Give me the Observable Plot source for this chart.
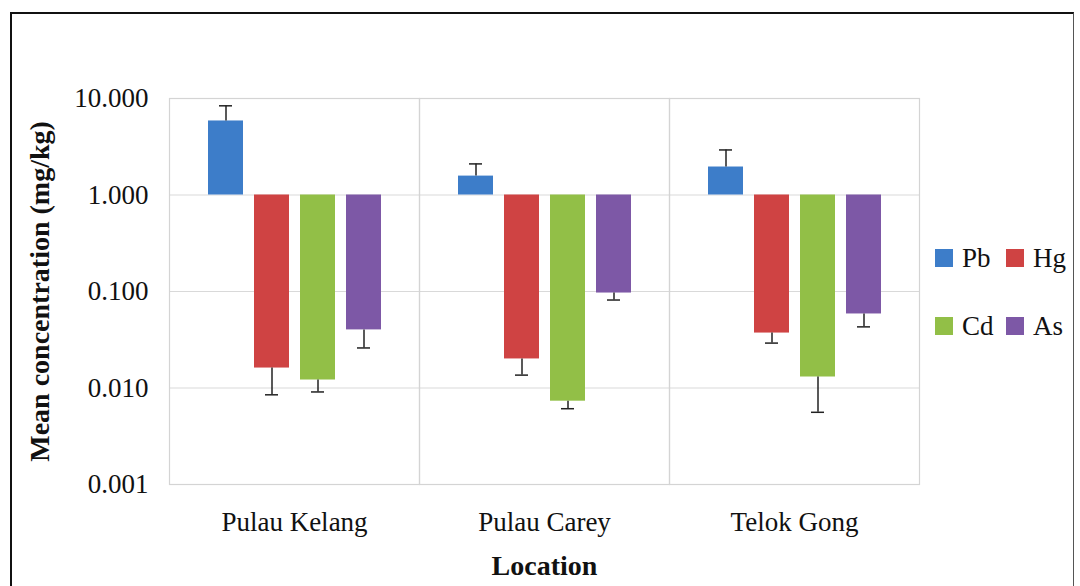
<!DOCTYPE html>
<html>
<head>
<meta charset="utf-8">
<script src="https://cdn.jsdelivr.net/npm/d3@7"></script>
<script src="https://cdn.jsdelivr.net/npm/@observablehq/plot@0.6"></script>
<style>
  html, body { margin: 0; padding: 0; background: #fff; }
  #wrap { position: relative; width: 1080px; height: 586px; overflow: hidden; background: #fff; }
  #border { position: absolute; left: 10px; top: 12px; width: 1064px; height: 600px;
            border-left: 2px solid #111; border-top: 2px solid #111; border-right: 1px solid #555; box-sizing: border-box; }
  #chart { position: absolute; left: 0; top: 0; }
  [aria-label="y-axis label"], [aria-label="fx-axis label"] { font-weight: bold; font-size: 28px; }
  .leg { position: absolute; font-family: "Liberation Serif", serif; font-size: 27px; color: #111; display: flex; align-items: center; }
  .sw { width: 18px; height: 18px; display: inline-block; margin-right: 9px; }
</style>
</head>
<body>
<div id="wrap">
  <div id="border"></div>
  <div id="chart"></div>
  <div id="legend"></div>
</div>
<script>
// Categories and series
const locations = ["Pulau Kelang", "Pulau Carey", "Telok Gong"];
const metals = ["Pb", "Hg", "Cd", "As"];
const colors = ["#3d7dc9", "#cf4343", "#92bf47", "#7d58a6"];

// Mean concentration (mg/kg) per location
const pbMean = [5.85, 1.57, 1.95];
const hgMean = [0.0161, 0.0200, 0.0371];
const cdMean = [0.0121, 0.0073, 0.0130];
const asMean = [0.0400, 0.0964, 0.0585];

// Error-bar end values (mg/kg)
const pbErr = [8.4, 2.10, 2.93];
const hgErr = [0.0085, 0.0136, 0.0292];
const cdErr = [0.0091, 0.0061, 0.0056];
const asErr = [0.0260, 0.0816, 0.0430];

const yTicks = [0.001, 0.01, 0.1, 1, 10];

const means = { Pb: pbMean, Hg: hgMean, Cd: cdMean, As: asMean };
const errs = { Pb: pbErr, Hg: hgErr, Cd: cdErr, As: asErr };
const data = [];
locations.forEach((loc, i) => {
  metals.forEach(m => {
    data.push({ location: loc, metal: m, value: means[m][i], err: errs[m][i] });
  });
});

const chart = Plot.plot({
  width: 1080,
  height: 586,
  marginLeft: 168,
  marginRight: 160,
  marginTop: 98,
  marginBottom: 102,
  style: { fontFamily: "'Liberation Serif', serif", background: "transparent", color: "#111" },
  fx: { domain: locations, padding: 0 },
  x: { domain: metals, paddingInner: 0.25, paddingOuter: 0.8, axis: null },
  y: { type: "log", domain: [0.001, 10] },
  color: { domain: metals, range: colors },
  marks: [
    Plot.ruleY(yTicks, { stroke: "#d9d9d9", strokeWidth: 1.2 }),
    Plot.frame({ stroke: "#d4d4d4", strokeWidth: 1.2 }),
    Plot.barY(data, { fx: "location", x: "metal", y1: 1, y2: "value", fill: "metal" }),
    Plot.ruleX(data, { fx: "location", x: "metal", y1: "value", y2: "err", stroke: "#222", strokeWidth: 1.5 }),
    Plot.tickY(data, { fx: "location", x: "metal", y: "err", inset: 11, stroke: "#222", strokeWidth: 1.5 }),
    Plot.axisY(yTicks, {
      tickSize: 0, tickPadding: 21, fontSize: 27,
      tickFormat: d3.format(".3f"),
      label: "Mean concentration (mg/kg)", labelAnchor: "center", labelOffset: 140, labelArrow: "none"
    }),
    Plot.axisFx({
      anchor: "bottom",
      tickSize: 0, tickPadding: 27, fontSize: 27,
      label: "Location", labelAnchor: "center", labelOffset: 90, labelArrow: "none"
    })
  ]
});
document.getElementById("chart").appendChild(chart);

// Legend (two rows of two)
const legendPos = [
  { left: 935, top: 249 }, { left: 1006, top: 249 },
  { left: 935, top: 317 }, { left: 1006, top: 317 }
];
const legend = document.getElementById("legend");
metals.forEach((m, i) => {
  const d = document.createElement("div");
  d.className = "leg";
  d.style.left = legendPos[i].left + "px";
  d.style.top = (legendPos[i].top - 5) + "px";
  d.style.height = "28px";
  const sw = document.createElement("span");
  sw.className = "sw";
  sw.style.background = colors[i];
  d.appendChild(sw);
  d.appendChild(document.createTextNode(m));
  legend.appendChild(d);
});
</script>
</body>
</html>
